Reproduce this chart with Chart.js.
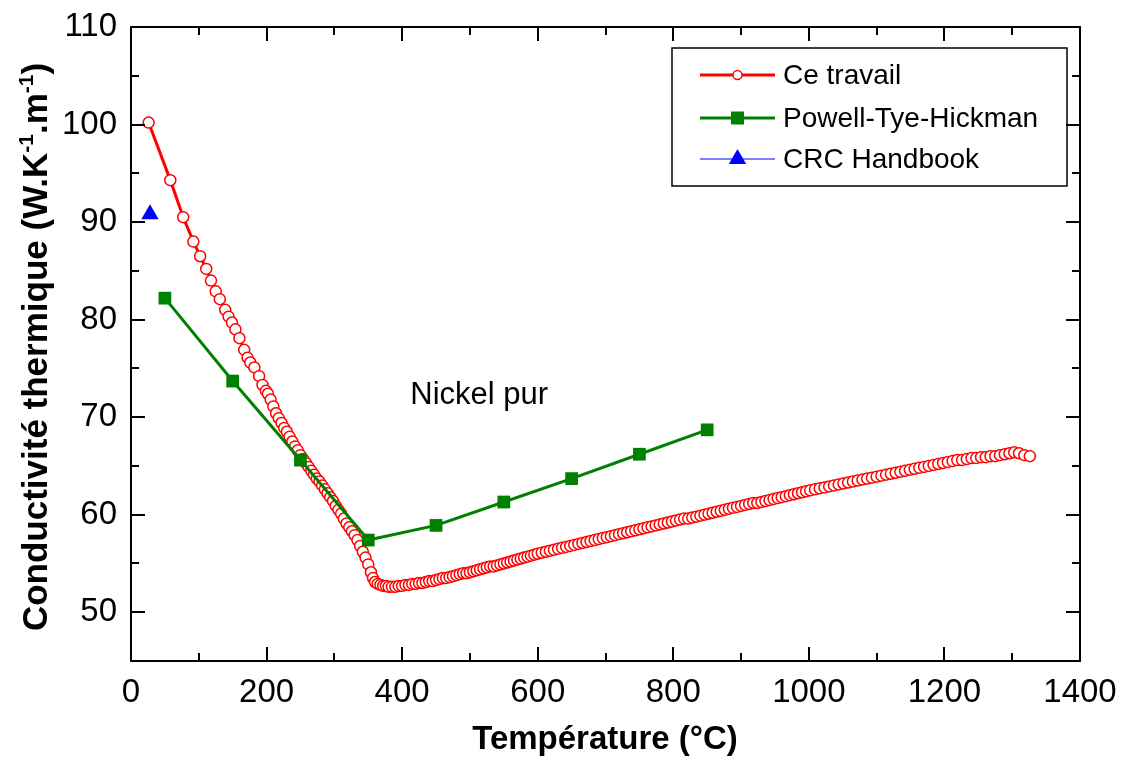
<!DOCTYPE html>
<html>
<head>
<meta charset="utf-8">
<script src="https://cdn.jsdelivr.net/npm/chart.js@4.4.1/dist/chart.umd.min.js"></script>
<style>
  html, body { margin: 0; padding: 0; background: #fff; }
  #wrap { width: 1123px; height: 758px; }
</style>
</head>
<body>
<div id="wrap"><canvas id="c" width="1123" height="758"></canvas></div>
<script>
// Conductivité thermique du nickel pur en fonction de la température

// "Ce travail" : mesures (°C, W.K-1.m-1)
const tempTravail = [
  26, 58, 77, 92, 102, 111, 118, 125, 131, 139, 144, 149, 154, 160, 167, 172, 176, 182, 189, 194, 199,
  202, 206, 210, 214, 218, 222, 226, 230, 234, 238, 242, 246, 250, 254, 258, 262, 266, 270, 274, 278,
  282, 286, 290, 294, 298, 302, 306, 310, 314, 318, 322, 326, 330, 334, 338, 342, 346, 350, 354,
  357, 360, 364, 368, 372, 376, 380, 385, 390, 395, 400,
  405, 410, 415, 420, 425, 430, 435, 440, 445, 450, 455, 460, 465, 470, 475, 480, 485, 490, 495, 500,
  505, 510, 515, 520, 525, 530, 535, 540, 545, 550, 555, 560, 565, 570, 575, 580, 585, 590, 595, 600,
  606, 612, 618, 624, 630, 636, 642, 648, 654, 660, 666, 672, 678, 684, 690, 696, 702, 708, 714, 720,
  726, 732, 738, 744, 750, 756, 762, 768, 774, 780, 786, 792, 798, 804, 810, 816, 822, 828, 834, 840,
  846, 852, 858, 864, 870, 876, 882, 888, 894, 900, 906, 912, 918, 924, 930, 936, 942, 948, 954, 960,
  966, 972, 978, 984, 990, 996, 1002,
  1009, 1016, 1023, 1030, 1037, 1044, 1051, 1058, 1065, 1072, 1079, 1086, 1093, 1100, 1107, 1114, 1121,
  1128, 1135, 1142, 1149, 1156, 1163, 1170, 1177, 1184, 1191, 1198, 1205, 1212, 1219, 1226, 1233, 1240,
  1247, 1254, 1261, 1268, 1275, 1282, 1289, 1296, 1303,
  1310, 1318, 1326
];
const kTravail = [
  100.2, 94.3, 90.5, 88.0, 86.5, 85.2, 84.0, 82.9, 82.1, 81.0, 80.3, 79.7, 79.0, 78.1, 76.9, 76.1, 75.6, 75.1, 74.2, 73.3, 72.7,
  72.4, 71.8, 71.1, 70.4, 69.9, 69.4, 68.9, 68.5, 68.0, 67.5, 67.0, 66.6, 66.1, 65.7, 65.3, 64.9, 64.5, 64.1, 63.7, 63.4,
  63.0, 62.6, 62.2, 61.8, 61.4, 60.9, 60.5, 60.1, 59.6, 59.1, 58.7, 58.3, 57.9, 57.4, 56.8, 56.2, 55.6, 54.9, 54.1,
  53.5, 53.1, 52.9, 52.8, 52.7, 52.7, 52.6, 52.6, 52.6, 52.7, 52.7,
  52.8, 52.8, 52.9, 52.9, 53.0, 53.0, 53.1, 53.2, 53.2, 53.3, 53.4, 53.5, 53.5, 53.6, 53.7, 53.8, 53.9, 54.0, 54.0, 54.1,
  54.2, 54.3, 54.4, 54.5, 54.6, 54.7, 54.7, 54.8, 54.9, 55.0, 55.1, 55.2, 55.3, 55.4, 55.5, 55.6, 55.7, 55.8, 55.9, 56.0,
  56.1, 56.2, 56.3, 56.4, 56.5, 56.6, 56.7, 56.8, 56.9, 57.0, 57.1, 57.2, 57.3, 57.4, 57.5, 57.6, 57.7, 57.8, 57.9, 58.0,
  58.1, 58.2, 58.3, 58.4, 58.5, 58.6, 58.7, 58.8, 58.9, 59.0, 59.1, 59.2, 59.3, 59.4, 59.5, 59.6, 59.6, 59.7, 59.8, 59.9,
  60.0, 60.1, 60.2, 60.3, 60.4, 60.5, 60.6, 60.7, 60.8, 60.9, 61.0, 61.1, 61.2, 61.2, 61.3, 61.4, 61.5, 61.6, 61.7, 61.8,
  61.9, 62.0, 62.1, 62.2, 62.3, 62.4, 62.5,
  62.6, 62.7, 62.8, 62.9, 63.0, 63.1, 63.2, 63.3, 63.4, 63.5, 63.6, 63.7, 63.8, 63.9, 64.0, 64.1, 64.2,
  64.3, 64.4, 64.5, 64.6, 64.7, 64.8, 64.9, 65.0, 65.1, 65.2, 65.3, 65.4, 65.5, 65.6, 65.6, 65.7, 65.8,
  65.8, 65.9, 65.9, 66.0, 66.0, 66.1, 66.2, 66.3, 66.4,
  66.3, 66.1, 66.0
];

// Powell, Tye et Hickman
const tempPTH = [50, 150, 250, 350, 450, 550, 650, 750, 850];
const kPTH = [82.2, 73.7, 65.6, 57.4, 58.9, 61.3, 63.7, 66.2, 68.7];

// CRC Handbook
const tempCRC = [28];
const kCRC = [90.8];

// Axes
const xTicks = [0, 200, 400, 600, 800, 1000, 1200, 1400];
const xMinor = [100, 300, 500, 700, 900, 1100, 1300];
const yTicks = [50, 60, 70, 80, 90, 100, 110];
const yMinor = [55, 65, 75, 85, 95, 105];

const seriesNames = ['Ce travail', 'Powell-Tye-Hickman', 'CRC Handbook'];
const note = { text: 'Nickel pur', t: 412, k: 71.3 };

const FONT = '"Liberation Sans", Arial, Helvetica, sans-serif';
Chart.defaults.font.family = FONT;
Chart.defaults.color = '#000';

const pts = (xs, ys) => xs.map((x, i) => ({ x, y: ys[i] }));

// marker drawing for the legend samples
function marker(ctx, style, x, y) {
  ctx.save();
  if (style === 'circle') {
    ctx.beginPath(); ctx.arc(x, y, 4.5, 0, Math.PI * 2);
    ctx.fillStyle = '#fff'; ctx.fill();
    ctx.lineWidth = 1.4; ctx.strokeStyle = '#ff0000'; ctx.stroke();
  } else if (style === 'rect') {
    ctx.fillStyle = '#008000';
    ctx.fillRect(x - 6.5, y - 6.5, 13, 13);
  } else {
    const r = 10;
    ctx.beginPath();
    ctx.moveTo(x, y - r);
    ctx.lineTo(x + r * Math.cos(Math.PI / 6), y + r / 2);
    ctx.lineTo(x - r * Math.cos(Math.PI / 6), y + r / 2);
    ctx.closePath();
    ctx.fillStyle = '#0000ff'; ctx.fill();
  }
  ctx.restore();
}

const framePlugin = {
  id: 'frame',
  afterDatasetsDraw(chart) {
    const { ctx, chartArea: a, scales: { x, y } } = chart;
    ctx.save();
    ctx.strokeStyle = '#000';
    ctx.lineWidth = 2;
    ctx.strokeRect(a.left, a.top, a.right - a.left, a.bottom - a.top);
    const seg = (x1, y1, x2, y2) => { ctx.beginPath(); ctx.moveTo(x1, y1); ctx.lineTo(x2, y2); ctx.stroke(); };
    const xt = (vals, len) => vals.forEach(v => {
      const p = Math.round(x.getPixelForValue(v));
      seg(p, a.bottom, p, a.bottom - len);
      seg(p, a.top, p, a.top + len);
    });
    const yt = (vals, len) => vals.forEach(v => {
      const p = Math.round(y.getPixelForValue(v));
      seg(a.left, p, a.left + len, p);
      seg(a.right, p, a.right - len, p);
    });
    xt(xTicks, 14); xt(xMinor, 8);
    yt(yTicks, 14); yt(yMinor, 8);

    // annotation
    ctx.fillStyle = '#000';
    ctx.font = '31px ' + FONT;
    ctx.textAlign = 'left';
    ctx.textBaseline = 'alphabetic';
    ctx.fillText(note.text, x.getPixelForValue(note.t), y.getPixelForValue(note.k));

    // legend
    const L = { left: 672, top: 48, w: 395, h: 138 };
    ctx.lineWidth = 1.5;
    ctx.strokeRect(L.left, L.top, L.w, L.h);
    const rows = [75, 118, 159];
    chart.data.datasets.forEach((ds, i) => {
      const ry = rows[i];
      ctx.strokeStyle = ds.borderColor;
      ctx.lineWidth = i === 2 ? 1 : 3;
      seg(700, ry, 775, ry);
      marker(ctx, ds.pointStyle, 737.5, ry);
      ctx.fillStyle = '#000';
      ctx.font = '28px ' + FONT;
      ctx.textBaseline = 'middle';
      ctx.fillText(ds.label, 783, ry + 1);
    });
    ctx.restore();
  },
  afterDraw(chart) {
    const { ctx } = chart;
    ctx.save();
    ctx.fillStyle = '#000';
    // x title
    ctx.font = 'bold 33px ' + FONT;
    ctx.textAlign = 'center';
    ctx.textBaseline = 'alphabetic';
    ctx.fillText('Température (°C)', 605, 749);

    // y title with superscripts
    const parts = [
      ['Conductivité thermique (W.K', false], ['-1', true], ['.m', false], ['-1', true], [')', false]
    ];
    const big = 'bold 35px ' + FONT, small = 'bold 21px ' + FONT;
    let total = 0;
    parts.forEach(([t, sup]) => { ctx.font = sup ? small : big; total += ctx.measureText(t).width; });
    ctx.translate(47, 347);
    ctx.rotate(-Math.PI / 2);
    ctx.textAlign = 'left';
    let cx = -total / 2;
    parts.forEach(([t, sup]) => {
      ctx.font = sup ? small : big;
      ctx.fillText(t, cx, sup ? -14 : 0);
      cx += ctx.measureText(t).width;
    });
    ctx.restore();
  }
};

new Chart(document.getElementById('c'), {
  type: 'scatter',
  data: {
    datasets: [
      {
        label: seriesNames[0],
        data: pts(tempTravail, kTravail),
        showLine: true,
        borderColor: '#ff0000',
        borderWidth: 3,
        pointStyle: 'circle',
        pointRadius: 5.5,
        pointBorderWidth: 1.5,
        pointBackgroundColor: '#ffffff',
        pointBorderColor: '#ff0000',
        order: 2
      },
      {
        label: seriesNames[1],
        data: pts(tempPTH, kPTH),
        showLine: true,
        borderColor: '#008000',
        borderWidth: 3,
        pointStyle: 'rect',
        pointRadius: 9,
        pointBorderWidth: 0,
        pointBackgroundColor: '#008000',
        pointBorderColor: '#008000',
        order: 1
      },
      {
        label: seriesNames[2],
        data: pts(tempCRC, kCRC),
        showLine: true,
        borderColor: '#0000ff',
        borderWidth: 1,
        pointStyle: 'triangle',
        pointRadius: 10,
        pointBorderWidth: 0,
        pointBackgroundColor: '#0000ff',
        pointBorderColor: '#0000ff',
        order: 0
      }
    ]
  },
  options: {
    responsive: false,
    animation: false,
    devicePixelRatio: 1,
    layout: { padding: { left: 0, top: 27, right: 43, bottom: 0 } },
    plugins: { legend: { display: false }, tooltip: { enabled: false } },
    scales: {
      x: {
        type: 'linear',
        min: 0, max: 1400,
        grid: { display: false, drawTicks: false },
        border: { display: false },
        ticks: { font: { size: 33 }, color: '#000', padding: 12, maxRotation: 0, callback: v => String(v) },
        afterBuildTicks: s => { s.ticks = xTicks.map(v => ({ value: v })); },
        afterFit: s => { s.height = 97; s.paddingLeft = 0; s.paddingRight = 0; }
      },
      y: {
        type: 'linear',
        min: 45, max: 110,
        grid: { display: false, drawTicks: false },
        border: { display: false },
        ticks: { font: { size: 33 }, color: '#000', padding: 14, callback: v => String(v) },
        afterBuildTicks: s => { s.ticks = yTicks.map(v => ({ value: v })); },
        afterFit: s => { s.width = 131; s.paddingTop = 0; s.paddingBottom = 0; }
      }
    }
  },
  plugins: [framePlugin]
});
</script>
</body>
</html>
